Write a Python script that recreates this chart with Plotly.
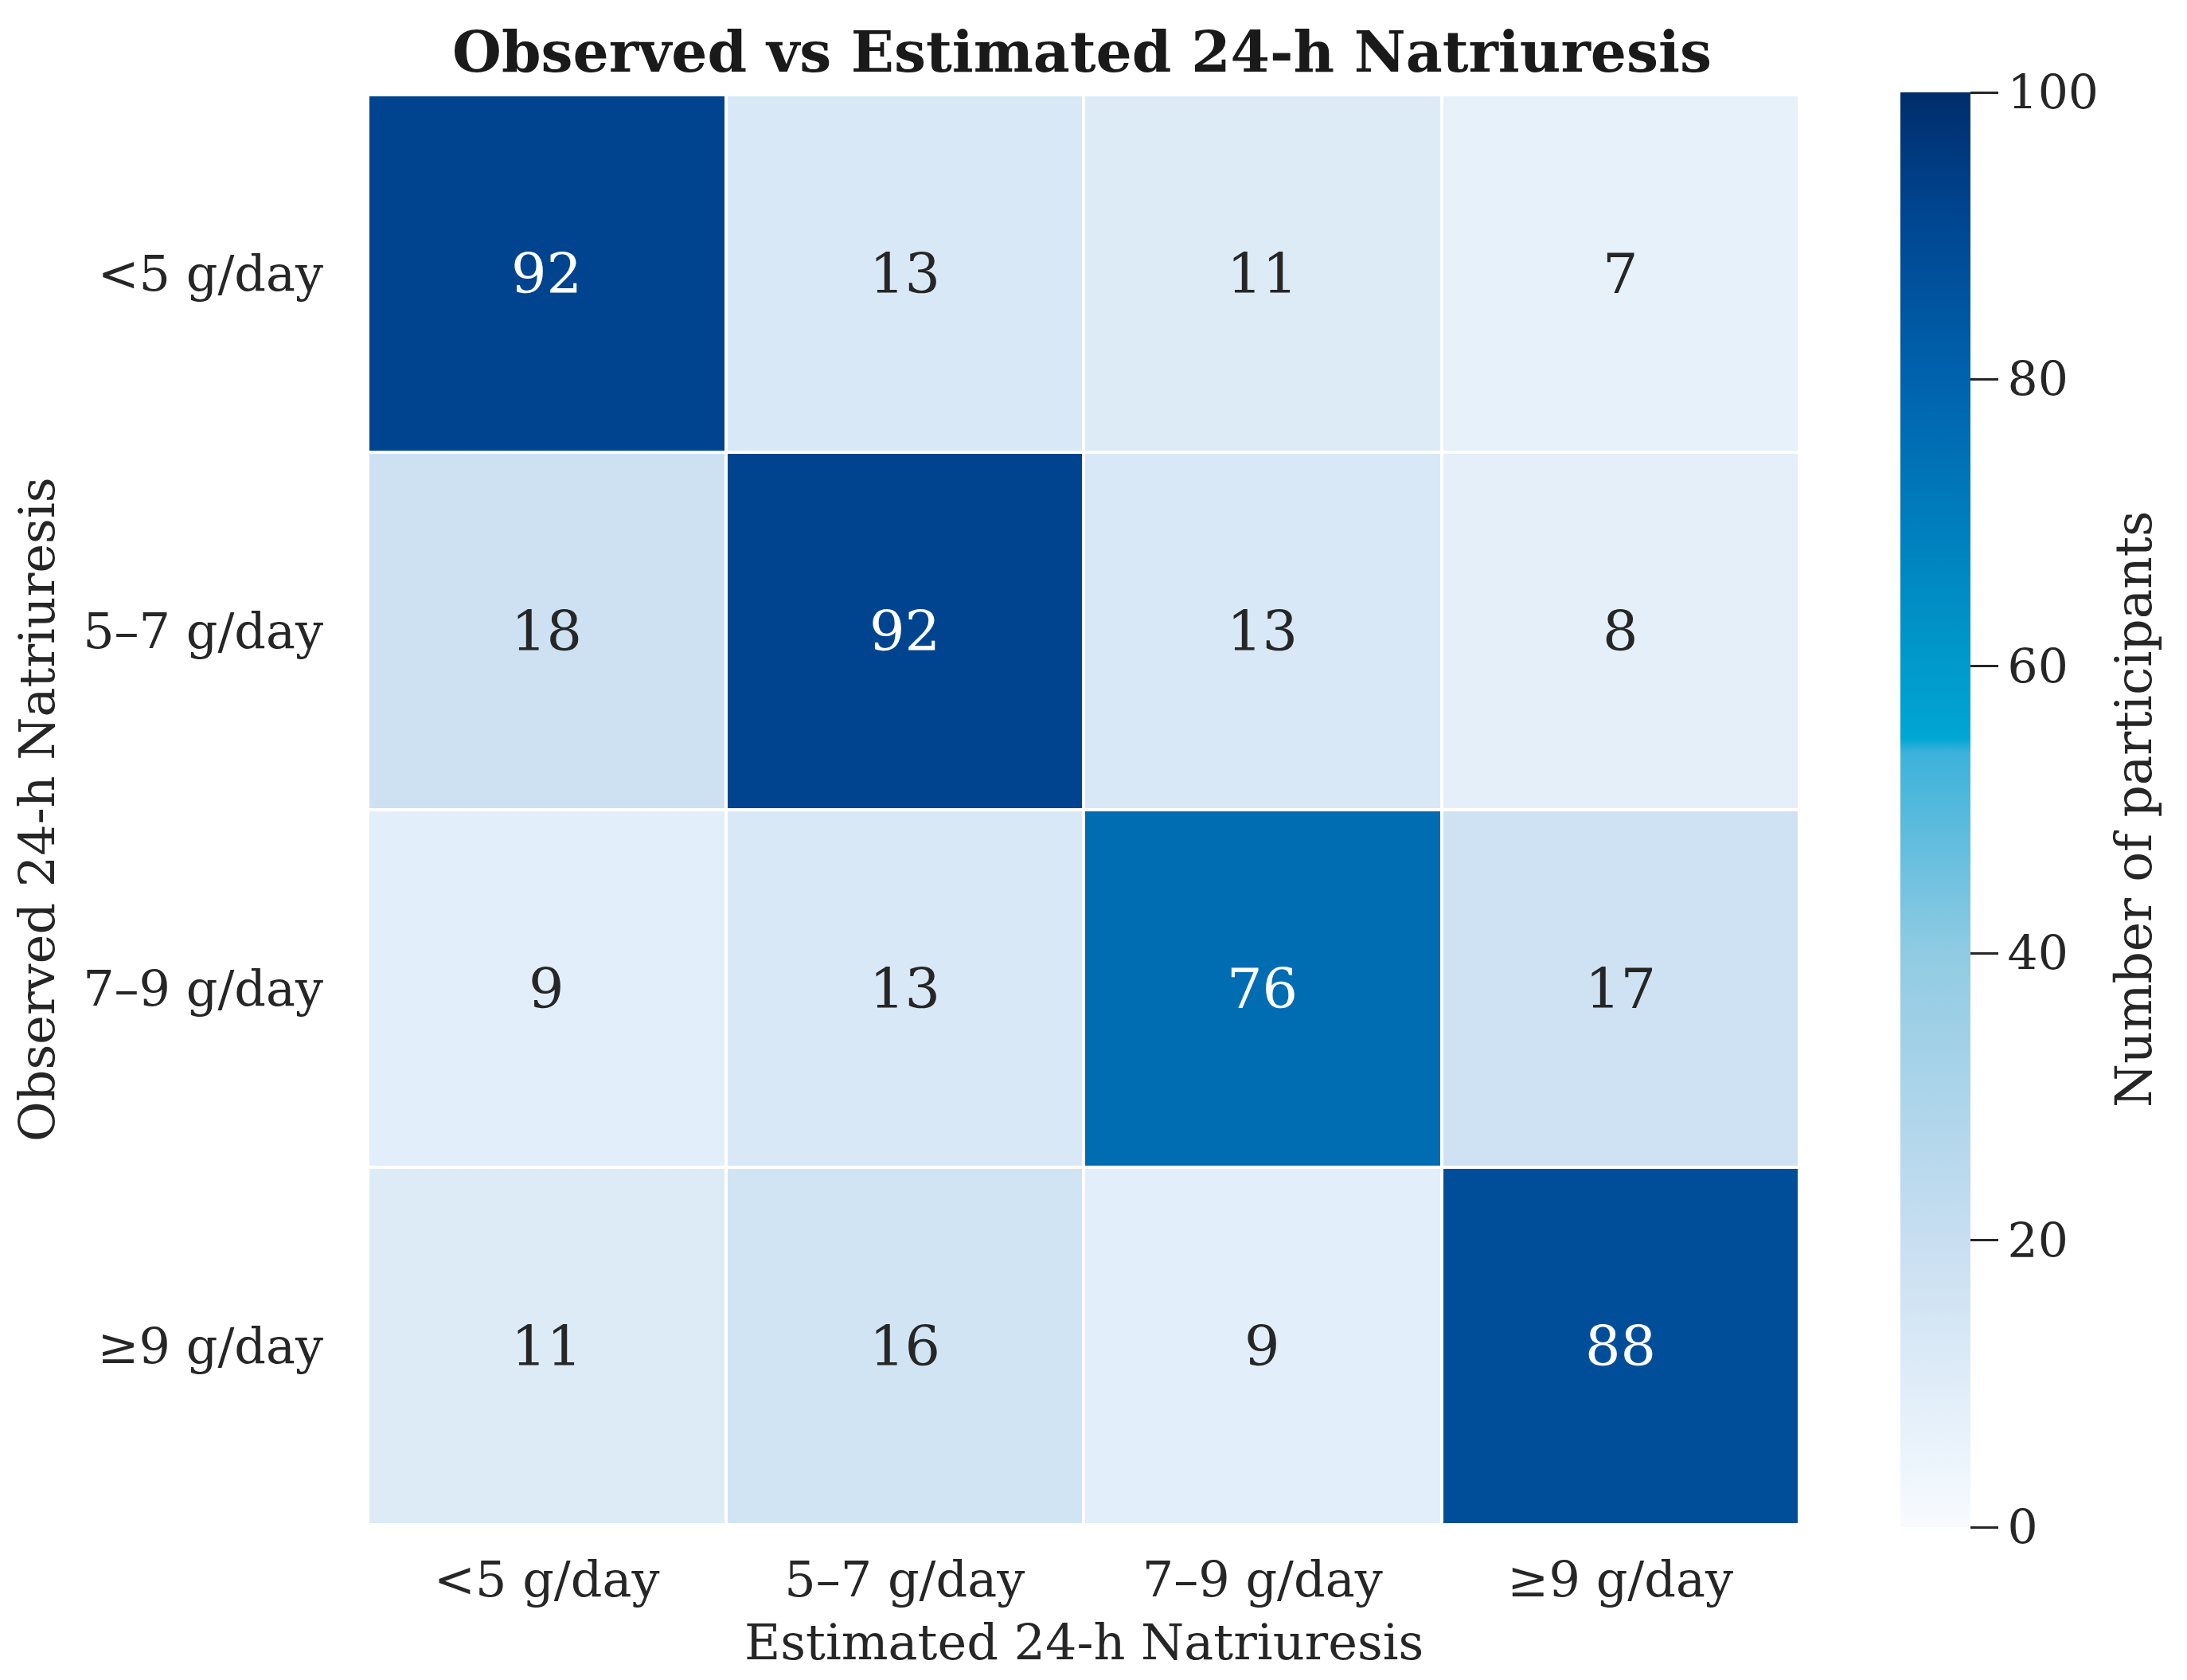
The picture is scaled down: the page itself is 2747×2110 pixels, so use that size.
import plotly.graph_objects as go

# categories (same bins on both axes)
estimated_bins = ["<5 g/day", "5–7 g/day", "7–9 g/day", "≥9 g/day"]
observed_bins = ["<5 g/day", "5–7 g/day", "7–9 g/day", "≥9 g/day"]

# counts: rows = observed, cols = estimated
counts = [
    [92, 13, 11, 7],
    [18, 92, 13, 8],
    [9, 13, 76, 17],
    [11, 16, 9, 88],
]

cbar_ticks = [0, 20, 40, 60, 80, 100]

FONT = "DejaVu Serif"
W, H = 2747, 2110
OFF = 12  # page offset of the figure
L, R, T, B = 466 - OFF, 483 + OFF, 123 - OFF, 191 + OFF
pw, ph = W - L - R, H - T - B

blues = [
    [0.0, "#f7fbff"],
    [0.2, "#c8def1"],
    [0.4, "#90cbe3"],
    [0.54, "#3cb2da"],
    [0.55, "#00a6d4"],
    [0.6, "#009acc"],
    [0.8, "#0062ad"],
    [0.92, "#00448f"],
    [1.0, "#002d6b"],
]

fig = go.Figure()
fig.add_trace(
    go.Heatmap(
        z=counts,
        x=estimated_bins,
        y=observed_bins,
        colorscale=blues,
        zmin=0,
        zmax=100,
        xgap=4,
        ygap=4,
        hoverongaps=False,
        colorbar=dict(
            x=1.0651,
            xanchor="left",
            y=0.5,
            yanchor="middle",
            ypad=0,
            len=1802,
            lenmode="pixels",
            thickness=88,
            thicknessmode="pixels",
            outlinewidth=0,
            tickvals=cbar_ticks,
            ticks="outside",
            ticklen=35,
            tickwidth=3,
            tickcolor="#262626",
            tickfont=dict(family=FONT, size=60, color="#262626"),
        ),
    )
)

# cell labels
annotations = []
for i, row in enumerate(counts):
    for j, v in enumerate(row):
        annotations.append(
            dict(
                x=estimated_bins[j],
                y=observed_bins[i],
                text=str(v),
                showarrow=False,
                font=dict(family=FONT, size=70, color="white" if v > 50 else "#262626"),
            )
        )

annotations += [
    dict(
        text="Estimated 24-h Natriuresis",
        x=0.5, y=-(2066 - OFF - (H - B)) / ph, xref="paper", yref="paper",
        xanchor="center", yanchor="middle",
        showarrow=False, font=dict(family=FONT, size=62, color="#262626"),
    ),
    dict(
        text="Observed 24-h Natriuresis",
        x=(50 - OFF - L) / pw, y=0.5, xref="paper", yref="paper", textangle=-90,
        xanchor="center", yanchor="middle",
        showarrow=False, font=dict(family=FONT, size=62, color="#262626"),
    ),
    dict(
        text="Number of participants",
        x=(2684 - OFF - L) / pw, y=0.5, xref="paper", yref="paper", textangle=-90,
        xanchor="center", yanchor="middle",
        showarrow=False, font=dict(family=FONT, size=63, color="#262626"),
    ),
]

fig.update_layout(
    width=W,
    height=H,
    margin=dict(l=L, r=R, t=T, b=B, pad=0),
    paper_bgcolor="white",
    plot_bgcolor="white",
    title=dict(
        text="<b>Observed vs Estimated 24-h Natriuresis</b>",
        x=(1363 - OFF) / W,
        xanchor="center",
        y=1 - 57 / H,
        yanchor="middle",
        font=dict(family=FONT, size=71, color="#1a1a1a"),
    ),
    xaxis=dict(
        showgrid=False,
        zeroline=False,
        ticks="",
        ticklabelstandoff=27,
        tickfont=dict(family=FONT, size=62, color="#262626"),
    ),
    yaxis=dict(
        autorange="reversed",
        showgrid=False,
        zeroline=False,
        ticks="",
        ticklabelstandoff=55,
        tickfont=dict(family=FONT, size=62, color="#262626"),
    ),
    annotations=annotations,
)

fig.write_html("out.html")
